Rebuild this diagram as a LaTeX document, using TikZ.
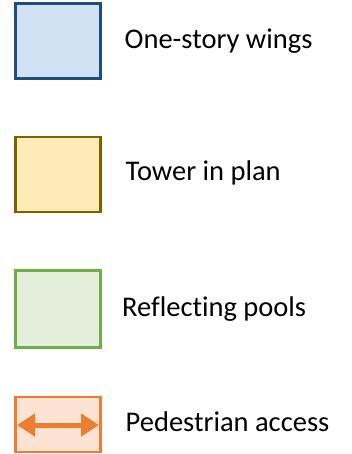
\documentclass[tikz,border=0pt]{standalone}
\usepackage{fontspec}
\setmainfont[Ligatures=NoCommon]{Carlito}
\usetikzlibrary{arrows.meta}
\definecolor{blueF}{HTML}{CFE1F2}
\definecolor{blueD}{HTML}{1F4E79}
\definecolor{yelF}{HTML}{FFEBB5}
\definecolor{yelD}{HTML}{7F6000}
\definecolor{grnF}{HTML}{E2EFDA}
\definecolor{grnD}{HTML}{70AD47}
\definecolor{orF}{HTML}{FBE3D3}
\definecolor{orD}{HTML}{ED7D31}
\tikzset{
  swatch/.style={line width=2.7pt},
  lbl/.style={anchor=base west, inner sep=0pt, font=\fontsize{28.5pt}{34pt}\selectfont, text=black}
}
\begin{document}
\begin{tikzpicture}[x=1pt,y=-1pt]
\useasboundingbox (0,0) rectangle (352,454);
\draw[swatch, draw=blueD, fill=blueF] (15.3,3.3) rectangle (100.3,78.7);
\draw[swatch, draw=yelD, fill=yelF] (15.3,137) rectangle (100.3,212);
\draw[swatch, draw=grnD, fill=grnF, line width=3pt] (15.5,270.5) rectangle (100.5,347.5);
\draw[swatch, draw=orD, fill=orF] (15.3,397) rectangle (100.3,452);
\coordinate (al) at (17,425);
\coordinate (ar) at (99,425);
\draw[orD, line width=5pt, {Triangle[length=18pt,width=22pt]}-{Triangle[length=18pt,width=22pt]}] (al) -- (ar);
\node[lbl] (t1) at (124.5,49) {One-story wings};
\node[lbl] (t2) at (125.5,181) {Tower in plan};
\node[lbl] (t3) at (122,316.3) {Reflecting pools};
\node[lbl] (t4) at (125.5,431.7) {Pedestrian access};
\end{tikzpicture}
\end{document}
